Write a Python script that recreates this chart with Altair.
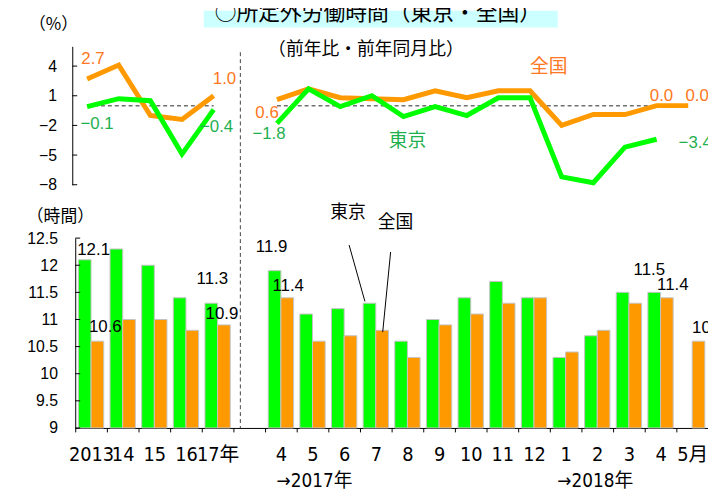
import altair as alt
import pandas as pd

# ---------------- data ----------------
cats = ["2013", "14", "15", "16", "17年", "  ",
        "4", "5", "6", "7", "8", "9", "10", "11", "12", "1", "2", "3", "4 ", "5月"]
annual_cats = cats[:5]
monthly_cats = cats[6:]
series_order = ["東京", "全国"]

# hours (bars)
tokyo_hours_annual = [12.1, 12.3, 12.0, 11.4, 11.3]
national_hours_annual = [10.6, 11.0, 11.0, 10.8, 10.9]
tokyo_hours_monthly = [11.9, 11.1, 11.2, 11.3, 10.6, 11.0, 11.4, 11.7, 11.4, 10.3, 10.7, 11.5, 11.5, None]
national_hours_monthly = [11.4, 10.6, 10.7, 10.8, 10.3, 10.9, 11.1, 11.3, 11.4, 10.4, 10.8, 11.3, 11.4, 10.6]

# year-on-year change (%)
tokyo_yoy_annual = [-0.1, 0.7, 0.5, -4.9, -0.4]
national_yoy_annual = [2.7, 4.1, -1.0, -1.4, 1.0]
tokyo_yoy_monthly = [-1.8, 1.7, -0.1, 1.0, -1.1, -0.1, -1.0, 0.8, 0.8, -7.2, -7.8, -4.2, -3.4, None]
national_yoy_monthly = [0.6, 1.7, 0.8, 0.7, 0.6, 1.5, 0.8, 1.5, 1.5, -2.0, -0.9, -0.9, 0.0, 0.0]

pct_ticks = [4, 1, -2, -5, -8]
hour_ticks = [9, 9.5, 10, 10.5, 11, 11.5, 12, 12.5]

# ---------------- styles ----------------
GREEN = "#00FF00"
ORANGE = "#FF9900"
GREEN_TXT = "#1FB04F"
ORANGE_TXT = "#FF7722"
NUM = "Liberation Sans, Arial, sans-serif"
NARROW = "Liberation Sans Narrow, DejaVu Sans Condensed, Noto Sans CJK JP, sans-serif"
JP = "Noto Sans CJK JP, sans-serif"


def fmt(v):
    return f"{v:.1f}".replace("-", "\u2212")


# ---------------- tables ----------------
bar_rows = []
for cs, tv, nv in [(annual_cats, tokyo_hours_annual, national_hours_annual),
                   (monthly_cats, tokyo_hours_monthly, national_hours_monthly)]:
    for c, t, n in zip(cs, tv, nv):
        if t is not None:
            bar_rows.append({"cat": c, "series": "東京", "value": t})
        if n is not None:
            bar_rows.append({"cat": c, "series": "全国", "value": n})
bars_df = pd.DataFrame(bar_rows)

line_rows = []
for seg_name, cs, tv, nv in [("a", annual_cats, tokyo_yoy_annual, national_yoy_annual),
                             ("m", monthly_cats, tokyo_yoy_monthly, national_yoy_monthly)]:
    for i, (c, t, n) in enumerate(zip(cs, tv, nv)):
        if t is not None:
            line_rows.append({"cat": c, "series": "東京", "seg": seg_name, "idx": i, "value": t})
        if n is not None:
            line_rows.append({"cat": c, "series": "全国", "seg": seg_name, "idx": i, "value": n})
lines_df = pd.DataFrame(line_rows)

zero_df = pd.DataFrame({
    "cat": [annual_cats[0], annual_cats[-1], monthly_cats[0], monthly_cats[-2]],
    "seg": ["a", "a", "m", "m"],
    "idx": [0, 1, 0, 1],
    "value": [0, 0, 0, 0],
})

# ---------------- scales & axes ----------------
XB = alt.Scale(domain=cats, paddingInner=0, paddingOuter=0)
XOFF = alt.Scale(domain=series_order, paddingInner=0, paddingOuter=0.25)
YB = alt.Scale(domain=[9, 12.5], range=[422, 230], nice=False, zero=False)
XL = alt.Scale(domain=cats, paddingInner=0, paddingOuter=0, range=[-4, 636])
YL = alt.Scale(domain=[-8, 6], range=[176, 36], nice=False, zero=False)

x_axis = alt.Axis(title=None, labelExpr="trim(datum.value)", labelFont=NARROW, labelFontSize=20,
                  labelColor="black", labelAngle=0, labelBaseline="middle", labelPadding=23,
                  labelOverlap=False, tickSize=4, tickColor="black", tickOffset=-16, labelOffset=16,
                  domainColor="black", grid=False)
yb_axis = alt.Axis(title=None, orient="left", values=hour_ticks, format="~g", ticks=False,
                   labelPadding=18, labelFont=NUM, labelFontSize=16, labelColor="black",
                   domainColor="black", grid=False)
yl_axis = alt.Axis(title=None, orient="left", values=pct_ticks, ticks=False, offset=3,
                   labelPadding=16, labelFont=NUM, labelFontSize=16, labelColor="black",
                   domainColor="black", grid=False)


def xb():
    return alt.X("cat:N", scale=XB, axis=x_axis)


def yb(field="value:Q"):
    return alt.Y(field, scale=YB, axis=yb_axis)


def xl():
    return alt.X("cat:N", scale=XL, axis=None)


def yl(field="value:Q"):
    return alt.Y(field, scale=YL, axis=yl_axis)


# ---------------- bottom (bars) ----------------
bars = alt.Chart(bars_df).mark_bar(stroke="#C4C4C4", strokeWidth=1).encode(
    x=xb(),
    xOffset=alt.XOffset("series:N", scale=XOFF),
    y=yb(),
    y2=alt.datum(9),
    color=alt.Color("series:N", scale=alt.Scale(domain=series_order, range=[GREEN, ORANGE]), legend=None),
)

hour_tick_marks = alt.Chart(pd.DataFrame({"value": hour_ticks})).mark_rule(color="black").encode(
    x=alt.value(0), x2=alt.value(5), y=yb()
)


def bar_label(cat, series, value, dx, dy):
    df = pd.DataFrame({"cat": [cat], "series": [series], "value": [value], "label": [fmt(value)]})
    return alt.Chart(df).mark_text(dx=dx, dy=dy, font=NUM, fontSize=17, color="black",
                                   align="center", baseline="middle").encode(
        x=xb(), xOffset=alt.XOffset("series:N", scale=XOFF), y=yb(), text="label:N")


bar_labels = [
    bar_label("2013", "東京", tokyo_hours_annual[0], 9, -10),
    bar_label("2013", "全国", national_hours_annual[0], 8, -14),
    bar_label("17年", "東京", tokyo_hours_annual[4], 1, -24),
    bar_label("17年", "全国", national_hours_annual[4], -2, -11),
    bar_label("4", "東京", tokyo_hours_monthly[0], -3, -24),
    bar_label("4", "全国", national_hours_monthly[0], 1, -12),
    bar_label("4 ", "東京", tokyo_hours_monthly[12], -5, -23),
    bar_label("4 ", "全国", national_hours_monthly[12], 6, -13),
    bar_label("5月", "全国", national_hours_monthly[13], 10, -13),
]

bottom = alt.layer(bars, hour_tick_marks, *bar_labels)

# ---------------- top (lines) ----------------
zero_line = alt.Chart(zero_df).mark_line(color="#707070", strokeWidth=1.5, strokeDash=[4, 3]).encode(
    x=xl(), y=yl(), detail="seg:N", order="idx:Q")

orange_line = alt.Chart(lines_df[lines_df.series == "全国"]).mark_line(
    color=ORANGE, strokeWidth=5).encode(x=xl(), y=yl(), detail="seg:N", order="idx:Q")
green_line = alt.Chart(lines_df[lines_df.series == "東京"]).mark_line(
    color=GREEN, strokeWidth=5).encode(x=xl(), y=yl(), detail="seg:N", order="idx:Q")

pct_tick_marks = alt.Chart(pd.DataFrame({"value": pct_ticks})).mark_rule(color="black").encode(
    x=alt.value(-3), x2=alt.value(2), y=yl())


def line_label(cat, value, color, dx, dy):
    df = pd.DataFrame({"cat": [cat], "value": [value], "label": [fmt(value)]})
    return alt.Chart(df).mark_text(dx=dx, dy=dy, font=NUM, fontSize=17, color=color,
                                   align="center", baseline="middle").encode(
        x=xl(), y=yl(), text="label:N")


line_labels = [
    line_label("2013", national_yoy_annual[0], ORANGE_TXT, 6, -20),
    line_label("17年", national_yoy_annual[4], ORANGE_TXT, 11, -17),
    line_label("4", national_yoy_monthly[0], ORANGE_TXT, -10, 14),
    line_label("4 ", national_yoy_monthly[12], ORANGE_TXT, 5, -10),
    line_label("5月", national_yoy_monthly[13], ORANGE_TXT, 9, -10),
    line_label("2013", tokyo_yoy_annual[0], GREEN_TXT, 10, 18),
    line_label("17年", tokyo_yoy_annual[4], GREEN_TXT, 3, 18),
    line_label("4", tokyo_yoy_monthly[0], GREEN_TXT, -8, 11),
    line_label("4 ", tokyo_yoy_monthly[12], GREEN_TXT, 39, 4),
]

top = alt.layer(zero_line, orange_line, green_line, pct_tick_marks, *line_labels)

# ---------------- annotations ----------------
one = pd.DataFrame({"k": [0]})


def txt(text, x, y, size, color="black", font=JP, align="center", baseline="middle"):
    return alt.Chart(one).mark_text(text=text, font=font, fontSize=size, color=color,
                                    align=align, baseline=baseline).encode(
        x=alt.value(x), y=alt.value(y))


def seg(x1, y1, x2, y2, color="black", width=1, dash=None):
    kw = {"color": color, "strokeWidth": width}
    if dash:
        kw["strokeDash"] = dash
    return alt.Chart(one).mark_rule(**kw).encode(
        x=alt.value(x1), y=alt.value(y1), x2=alt.value(x2), y2=alt.value(y2))


title_box = alt.Chart(one).mark_rect(color="#CCFFFF").encode(
    x=alt.value(130), x2=alt.value(488), y=alt.value(0), y2=alt.value(17))

annotations = [
    title_box,
    txt("○所定外労働時間（東京・全国）", 141, 9, 22, align="left", baseline="alphabetic"),
    txt("（%）", -22, 14, 17),
    txt("（前年比・前年同月比）", 294, 40, 18),
    txt("全国", 479, 57, 19, color=ORANGE_TXT),
    txt("東京", 336, 132, 19, color=GREEN_TXT),
    txt("（時間）", -15, 209, 17),
    txt("東京", 276, 205, 18),
    txt("全国", 324, 215, 18),
    seg(277, 237, 293, 294),
    seg(319, 244, 311, 325),
    seg(167, 42, 167, 422, color="#444444", width=1, dash=[4, 3]),
    txt("→2017年", 242, 476, 19, font=NARROW),
    txt("→2018年", 526, 476, 19, font=NARROW),
]

chart = alt.layer(top, bottom, *annotations).resolve_scale(
    x="independent", y="independent"
).properties(
    width=640, height=422,
    autosize=alt.AutoSizeParams(type="none"),
    padding={"left": 68, "top": 0, "right": 0, "bottom": 60},
).configure_view(strokeWidth=0)

chart.save("out.html", embed_options={"renderer": "svg", "actions": False})
